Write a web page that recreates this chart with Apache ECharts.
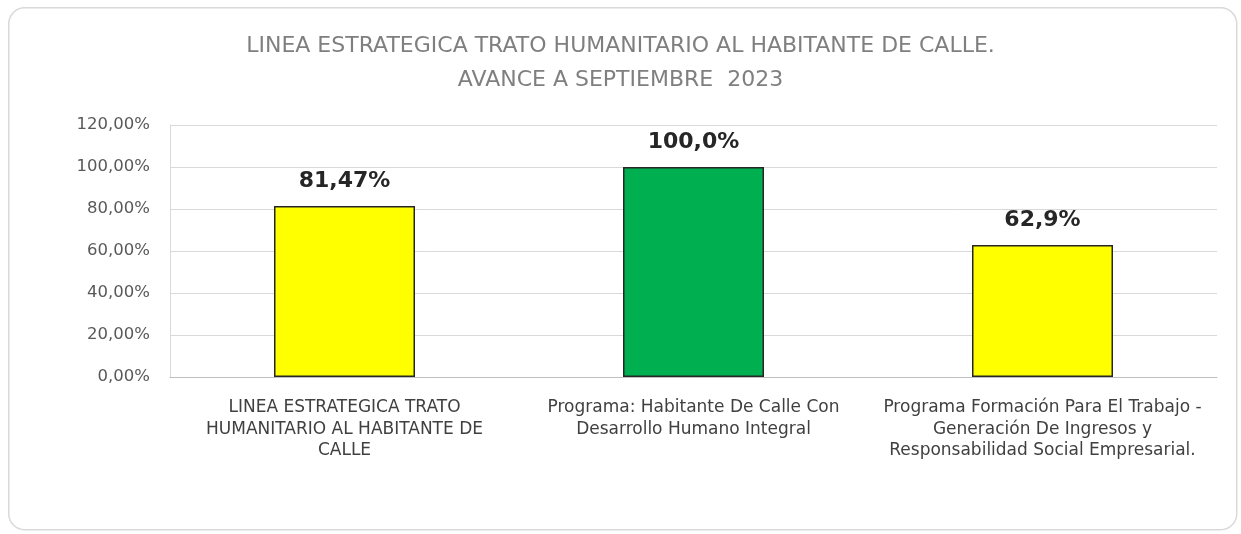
<!DOCTYPE html>
<html><head><meta charset="utf-8">
<script src="https://cdn.jsdelivr.net/npm/echarts@6/dist/echarts.min.js"></script>
<style>html,body{margin:0;padding:0;background:#fff}#c{width:1241px;height:534px}</style>
</head><body><div id="c"></div>
<script>
var titleLines = ["LINEA ESTRATEGICA TRATO HUMANITARIO AL HABITANTE DE CALLE.", "AVANCE A SEPTIEMBRE  2023"];
var categories = [
  "LINEA ESTRATEGICA TRATO\nHUMANITARIO AL HABITANTE DE\nCALLE",
  "Programa: Habitante De Calle Con\nDesarrollo Humano Integral",
  "Programa Formación Para El Trabajo -\nGeneración De Ingresos y\nResponsabilidad Social Empresarial."
];
var values = [0.8147, 1.0, 0.629];
var valueLabels = ["81,47%", "100,0%", "62,9%"];
var barColors = ["#FFFF00", "#00B050", "#FFFF00"];

var chart = echarts.init(document.getElementById('c'));
var font = "DejaVu Sans, sans-serif";
chart.setOption({
  animation: false,
  title: {
    text: titleLines.join('\n'),
    left: 'center', top: 24,
    textStyle: {fontFamily: font, fontSize: 22, fontWeight: 'normal', color: '#7f7f7f', lineHeight: 34}
  },
  graphic: [{
    type: 'rect', left: 8, top: 7, z: -1,
    shape: {width: 1228, height: 522, r: 16},
    style: {fill: '#fff', stroke: '#d9d9d9', lineWidth: 1.5}
  }],
  grid: {left: 170, right: 24, top: 125, bottom: 157},
  xAxis: {
    type: 'category', data: categories,
    axisTick: {show: false},
    axisLine: {lineStyle: {color: '#bfbfbf', width: 1}},
    axisLabel: {fontFamily: font, fontSize: 17, color: '#404040', lineHeight: 21.5, margin: 20, interval: 0}
  },
  yAxis: {
    type: 'value', min: 0, max: 1.2, interval: 0.2,
    axisLine: {show: true, lineStyle: {color: '#d9d9d9'}},
    axisTick: {show: false},
    splitLine: {lineStyle: {color: '#d9d9d9'}},
    axisLabel: {
      fontFamily: font, fontSize: 16.5, color: '#595959', margin: 20,
      formatter: function (v) { return (v * 100).toFixed(2).replace('.', ',') + '%'; }
    }
  },
  series: [{
    type: 'bar', barWidth: 141,
    data: values.map(function (v, i) {
      return {value: v, itemStyle: {color: barColors[i], borderColor: '#262626', borderWidth: 1.5}};
    }),
    label: {
      show: true, position: 'top', distance: 14,
      fontFamily: font, fontSize: 22, fontWeight: 'bold', color: '#262626',
      formatter: function (p) { return valueLabels[p.dataIndex]; }
    }
  }]
});
</script></body></html>
